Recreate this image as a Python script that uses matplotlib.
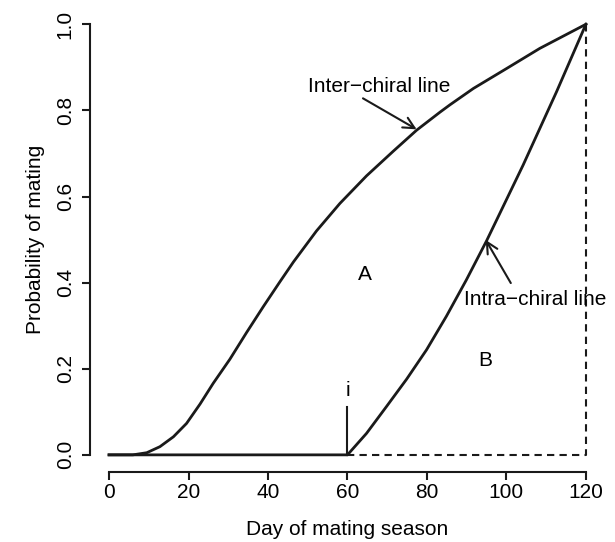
import matplotlib
matplotlib.use('Agg')
import matplotlib.pyplot as plt

plt.rcParams['font.family'] = ['Liberation Sans', 'DejaVu Sans']

# Curves.
inter_x = [0, 6, 9.5, 12.8, 16.2, 19.5, 22.9, 26.2, 30.4, 34.6, 38.8, 43.0, 46.4, 52.2, 58.1,
           64.8, 71.5, 77.4, 83.3, 85.8, 91.7, 100, 108.4, 120]
inter_y = [0, 0, 0.005, 0.019, 0.042, 0.073, 0.118, 0.166, 0.222, 0.284, 0.344, 0.402, 0.448,
           0.520, 0.584, 0.648, 0.705, 0.754, 0.796, 0.813, 0.851, 0.897, 0.944, 1.0]

intra_x = [0, 60, 64.8, 69.8, 74.9, 79.9, 84.9, 89.9, 95.0, 98.4, 104.2, 112.6, 120]
intra_y = [0, 0, 0.050, 0.112, 0.176, 0.244, 0.322, 0.406, 0.497, 0.562, 0.673, 0.843, 1.0]

dash_x = [60, 120, 120]
dash_y = [0, 0, 1]

xticks = [0, 20, 40, 60, 80, 100, 120]
yticks = [0.0, 0.2, 0.4, 0.6, 0.8, 1.0]

fig = plt.figure(figsize=(6.15, 5.42), dpi=100)
ax = fig.add_axes([0.1463, 0.129, 0.8374, 0.858])

ax.plot(inter_x, inter_y, color='#1a1a1a', lw=2.0, solid_joinstyle='round')
ax.plot(intra_x, intra_y, color='#1a1a1a', lw=2.0, solid_joinstyle='round')
ax.plot(dash_x, dash_y, color='#1a1a1a', lw=1.5, dashes=(3.5, 2.5))

# marker at i
ax.plot([60, 60], [0, 0.112], color='#1a1a1a', lw=1.5)
ax.text(60, 0.15, 'i', ha='center', va='center', fontsize=15)

ax.text(64.4, 0.418, 'A', ha='center', va='center', fontsize=15)
ax.text(94.6, 0.218, 'B', ha='center', va='center', fontsize=15)

arrow = dict(arrowstyle='->', color='#1a1a1a', lw=1.5, mutation_scale=20, shrinkA=0, shrinkB=0)
ax.annotate('', xy=(77.4, 0.756), xytext=(63.9, 0.828), arrowprops=arrow)
ax.text(68.1, 0.856, 'Inter\u2212chiral line', ha='center', va='center', fontsize=15)
ax.annotate('', xy=(94.8, 0.499), xytext=(101.1, 0.399), arrowprops=arrow)
ax.text(107.2, 0.36, 'Intra\u2212chiral line', ha='center', va='center', fontsize=15)

ax.set_xlim(-4.8, 124.8)
ax.set_ylim(-0.04, 1.04)
ax.set_xticks(xticks)
ax.set_xticklabels([str(t) for t in xticks])
ax.set_yticks(yticks)
ax.set_yticklabels(['%.1f' % t for t in yticks], rotation=90, va='center')

for s in ['top', 'right']:
    ax.spines[s].set_visible(False)
ax.spines['bottom'].set_bounds(0, 120)
ax.spines['left'].set_bounds(0, 1)
for s in ['bottom', 'left']:
    ax.spines[s].set_linewidth(1.5)
    ax.spines[s].set_color('#1a1a1a')
ax.tick_params(axis='both', length=6, width=1.5, color='#1a1a1a', labelsize=15)
ax.tick_params(axis='x', pad=2)
ax.tick_params(axis='y', pad=5)

ax.set_xlabel('Day of mating season', fontsize=15, labelpad=13)
ax.set_ylabel('Probability of mating', fontsize=15, labelpad=8)

fig.savefig('out.png', dpi=100)
